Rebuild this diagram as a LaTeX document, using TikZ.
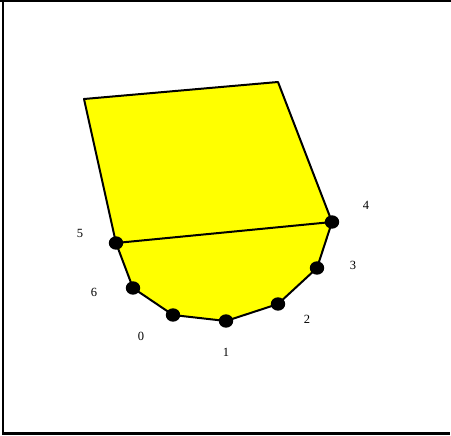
\documentclass[tikz,border=0pt]{standalone}
\usepackage{fontspec}
\setmainfont{Liberation Serif}
\definecolor{polyfill}{RGB}{255,255,0}
\begin{document}
\begin{tikzpicture}[x=1pt,y=-1pt,
  edge/.style={line width=2pt,line join=round},
  lbl/.style={font=\fontsize{12.5}{14}\selectfont,inner sep=0pt}]
\useasboundingbox (0,0) rectangle (451,436);
\fill[white] (0,0) rectangle (451,436);
% frame
\draw[line width=2pt] (0,1) -- (451,1);
\draw[line width=2pt] (3,0) -- (3,435);
\draw[line width=3pt] (2,433.5) -- (450,433.5);
% polygon corners
\coordinate (A) at (84,99);
\coordinate (B) at (278,82);
\coordinate (p4) at (332,222);
\coordinate (p3) at (317,268);
\coordinate (p2) at (278,304);
\coordinate (p1) at (226,321);
\coordinate (p0) at (173,315);
\coordinate (p6) at (133,288);
\coordinate (p5) at (116,243);
\fill[polyfill] (A) -- (B) -- (p4) -- (p3) -- (p2) -- (p1) -- (p0) -- (p6) -- (p5) -- cycle;
\draw[edge] (A) -- (B) -- (p4) -- (p3) -- (p2) -- (p1) -- (p0) -- (p6) -- (p5) -- cycle;
\draw[edge] (p5) -- (p4);
% dots
\foreach \p in {p0,p1,p2,p3,p4,p5,p6}
  \fill (\p) ellipse [x radius=7.2, y radius=6.7];
% labels
\node[lbl] (l5) at (80,233) {5};
\node[lbl] (l6) at (94,292) {6};
\node[lbl] (l0) at (141,336) {0};
\node[lbl] (l1) at (226,352) {1};
\node[lbl] (l2) at (307,319) {2};
\node[lbl] (l3) at (353,265) {3};
\node[lbl] (l4) at (366,205) {4};
\end{tikzpicture}
\end{document}
